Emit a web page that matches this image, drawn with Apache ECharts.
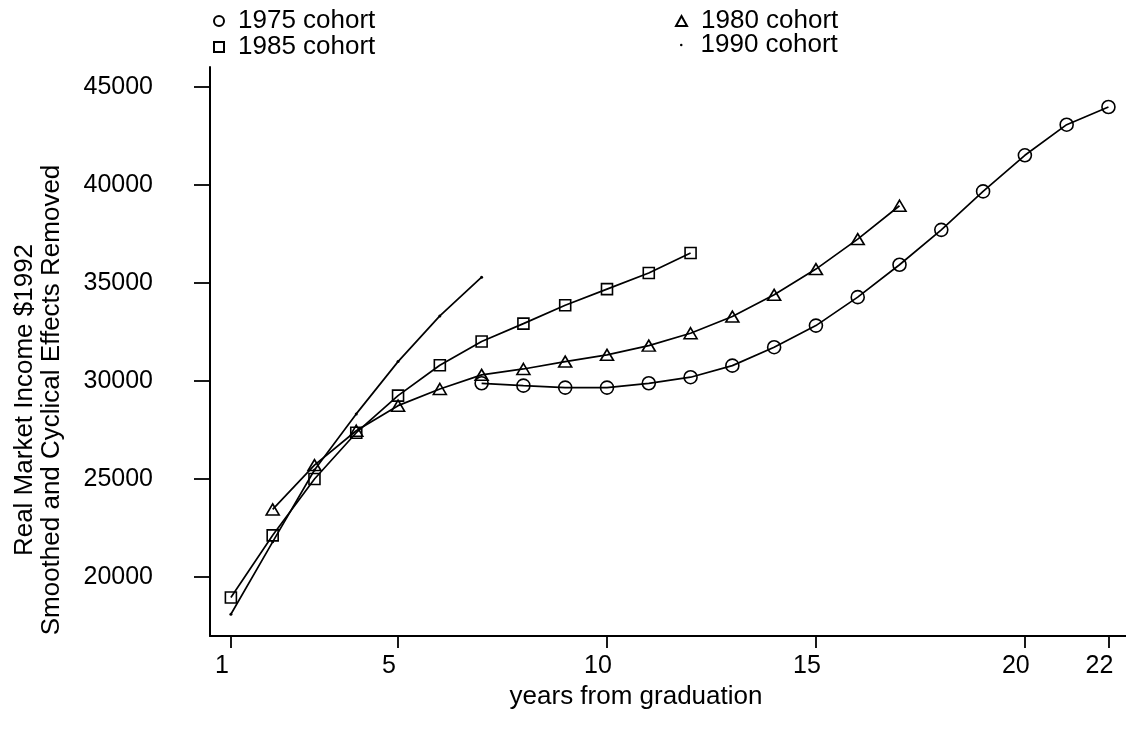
<!DOCTYPE html>
<html>
<head>
<meta charset="utf-8">
<script src="https://cdn.jsdelivr.net/npm/echarts@6/dist/echarts.min.js"></script>
<style>
html,body{margin:0;padding:0;background:#fff;}
#chart{width:1126px;height:738px;}
</style>
</head>
<body>
<div id="chart"></div>
<script>
// ---- data ----
const xTicks = [1, 5, 10, 15, 20, 22];
const yTicks = [20000, 25000, 30000, 35000, 40000, 45000];

const years1975 = [7, 8, 9, 10, 11, 12, 13, 14, 15, 16, 17, 18, 19, 20, 21, 22];
const income1975 = [29880, 29760, 29660, 29660, 29880, 30190, 30780, 31720, 32820, 34270, 35920, 37700, 39660, 41500, 43060, 43960];

const years1980 = [2, 3, 4, 5, 6, 7, 8, 9, 10, 11, 12, 13, 14, 15, 16, 17];
const income1980 = [23450, 25710, 27460, 28740, 29590, 30310, 30610, 30985, 31330, 31800, 32430, 33280, 34390, 35700, 37230, 38930];

const years1985 = [1, 2, 3, 4, 5, 6, 7, 8, 9, 10, 11, 12];
const income1985 = [18960, 22130, 25000, 27360, 29250, 30800, 32010, 32920, 33860, 34680, 35500, 36520];

const years1990 = [1, 2, 3, 4, 5, 6, 7];
const income1990 = [18110, 21800, 25460, 28320, 30985, 33315, 35290];

const seriesNames = ['1975 cohort', '1980 cohort', '1985 cohort', '1990 cohort'];
const xTitle = 'years from graduation';
const yTitle = 'Real Market Income $1992\nSmoothed and Cyclical Effects Removed';

// ---- chart ----
const FONT = '"Liberation Sans", Arial, Helvetica, sans-serif';
const pairs = (xs, ys) => xs.map((x, i) => [x, ys[i]]);
const hollow = { color: 'rgba(0,0,0,0)', borderColor: '#000', borderWidth: 1.6 };
const lineStyle = { color: '#000', width: 1.7 };

const chart = echarts.init(document.getElementById('chart'), null, { renderer: 'canvas' });
chart.setOption({
  backgroundColor: '#fff',
  animation: false,
  textStyle: { fontFamily: FONT, color: '#000' },
  grid: { left: 210, right: 0, top: 67, bottom: 102, containLabel: false },
  xAxis: {
    type: 'value', min: 0.5, max: 22.42,
    splitLine: { show: false },
    axisLine: { show: true, lineStyle: { color: '#000', width: 2 } },
    axisTick: { show: true, length: 12, lineStyle: { color: '#000', width: 1.8 }, customValues: xTicks },
    axisLabel: { customValues: xTicks, fontSize: 25, color: '#000', fontFamily: FONT, margin: 18, padding: [0, 18, 0, 0], formatter: v => String(v) }
  },
  yAxis: {
    type: 'value', min: 17000, max: 46000,
    splitLine: { show: false },
    axisLine: { show: true, lineStyle: { color: '#000', width: 2 } },
    axisTick: { show: true, length: 16, lineStyle: { color: '#000', width: 1.8 }, customValues: yTicks },
    axisLabel: { customValues: yTicks, fontSize: 25, color: '#000', fontFamily: FONT, margin: 57, formatter: v => String(v) }
  },
  legend: [
    {
      orient: 'vertical', left: 213, top: 8, padding: 0, itemGap: 0,
      itemWidth: 10, itemHeight: 10,
      textStyle: { fontSize: 26, color: '#000', fontFamily: FONT, lineHeight: 24, padding: [0, 0, 0, 9] },
      data: [{ name: seriesNames[0], icon: 'circle' }, { name: seriesNames[2], icon: 'rect' }]
    },
    {
      orient: 'vertical', left: 675, top: 8, padding: 0, itemGap: 0,
      itemWidth: 11, itemHeight: 10,
      textStyle: { fontSize: 26, color: '#000', fontFamily: FONT, lineHeight: 24, padding: [0, 0, 0, 9] },
      data: [{ name: seriesNames[1], icon: 'triangle' }]
    },
    {
      orient: 'vertical', left: 680, top: 32, padding: 0, itemGap: 0,
      itemWidth: 2.5, itemHeight: 2.5,
      textStyle: { fontSize: 26, color: '#000', fontFamily: FONT, lineHeight: 24, padding: [0, 0, 0, 13] },
      data: [{ name: seriesNames[3], icon: 'circle' }]
    }
  ],
  graphic: [
    {
      type: 'text', x: 38, y: 400, rotation: Math.PI / 2,
      style: { text: yTitle, font: '26px ' + FONT, fill: '#000', align: 'center', verticalAlign: 'middle', lineHeight: 27 }
    },
    {
      type: 'text', x: 636, y: 697,
      style: { text: xTitle, font: '26px ' + FONT, fill: '#000', align: 'center', verticalAlign: 'middle' }
    }
  ],
  series: [
    { name: seriesNames[0], type: 'line', data: pairs(years1975, income1975), symbol: 'circle', symbolSize: 13, itemStyle: hollow, lineStyle: lineStyle },
    { name: seriesNames[1], type: 'line', data: pairs(years1980, income1980), symbol: 'triangle', symbolSize: [13, 11], itemStyle: hollow, lineStyle: lineStyle },
    { name: seriesNames[2], type: 'line', data: pairs(years1985, income1985), symbol: 'rect', symbolSize: 11, itemStyle: hollow, lineStyle: lineStyle },
    { name: seriesNames[3], type: 'line', data: pairs(years1990, income1990), symbol: 'circle', symbolSize: 3, itemStyle: { color: '#000' }, lineStyle: lineStyle }
  ]
});
</script>
</body>
</html>
